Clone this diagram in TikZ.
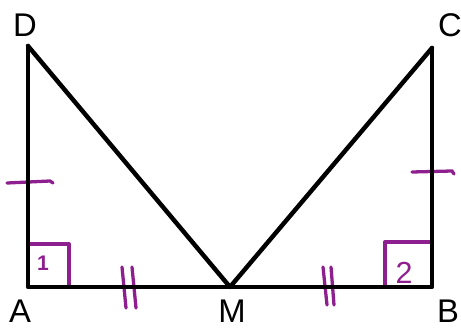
\documentclass[tikz,border=0pt]{standalone}
\usepackage{fontspec}
\setmainfont{Liberation Sans}
\usetikzlibrary{calc, positioning}
\definecolor{mkPurple}{HTML}{8E1F8E}
\tikzset{
  side/.style     = {line width=3.8pt, black, line cap=round, line join=round},
  tickmark/.style = {mkPurple, line width=2.8pt, line cap=round},
  ptlbl/.style    = {font=\fontsize{28}{30}\selectfont, inner sep=0pt},
  anglbl/.style   = {mkPurple, inner sep=0pt},
}

\begin{document}
\begin{tikzpicture}[x=0.03cm, y=0.03cm]
  \useasboundingbox (0,0) rectangle (461,331);

  \coordinate (A) at (28,44);
  \coordinate (M) at (230,44);
  \coordinate (B) at (432,44);
  \coordinate (C) at (432,283);
  \coordinate (D) at (28,285);

  % right-angle boxes
  \draw[tickmark, line join=round] ($(A)+(0,43)$) -| ($(A)+(41,0)$);
  \draw[tickmark, line join=round] ($(B)+(-47,0)$) |- ($(B)+(0,45)$);
  \node[anglbl, font=\bfseries\fontsize{18}{20}\selectfont] (one) at (43,68) {1};
  \node[anglbl, font=\fontsize{26}{28}\selectfont] (two) at (404,58) {2};

  % equal sides
  \draw[tickmark] (7,148) -- (50,150) -- (53,148);
  \draw[tickmark] (412,159) -- (452,160) -- (454,157);
  \draw[tickmark] (122,64) -- (126,23);
  \draw[tickmark] (132,64) -- (136,23);
  \draw[tickmark] (323,64) -- (327,26);
  \draw[tickmark] (331,64) -- (334,26);

  \draw[side] (D) -- (A) -- (M) -- (B) -- (C);
  \draw[side] (D) -- (M) -- (C);

  \node[ptlbl] (lblD) at (25,306) {D};
  \node[ptlbl] (lblC) at (450,306) {C};
  \node[ptlbl] (lblA) at (20,20) {A};
  \node[ptlbl] (lblM) at (232,20) {M};
  \node[ptlbl] (lblB) at (448,20) {B};
\end{tikzpicture}
\end{document}
